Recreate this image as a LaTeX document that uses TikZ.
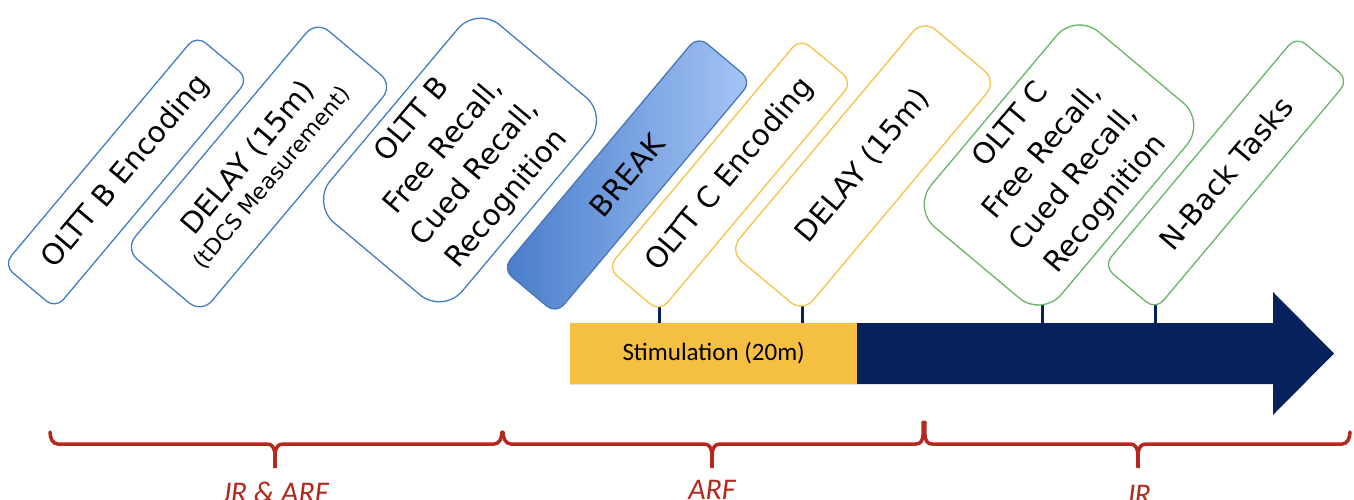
\documentclass[tikz,border=0pt]{standalone}
\usepackage{fontspec}
\setmainfont{DejaVu Sans}
\newfontfamily\calibri{Carlito}
\usetikzlibrary{calc,backgrounds}
\definecolor{navy}{RGB}{6,33,91}
\definecolor{stimyellow}{RGB}{245,192,66}
\definecolor{boxblue}{RGB}{70,124,196}
\definecolor{boxyellow}{RGB}{246,195,70}
\definecolor{boxgreen}{RGB}{106,180,104}
\definecolor{breakborder}{RGB}{74,118,182}
\definecolor{breaklight}{RGB}{166,198,246}
\definecolor{breakdark}{RGB}{72,124,202}
\definecolor{bracered}{RGB}{180,40,30}

\begin{document}
\begin{tikzpicture}[x=1pt,y=-1pt,
    task/.style={draw, fill=white, rotate=50, align=center, inner sep=0pt,
      line width=1.3pt, rounded corners=12pt, font=\fontsize{29}{41}\selectfont},
    stemline/.style={navy, line width=3pt},
    tbrace/.style={bracered, line width=3.5pt, line cap=round},
    period/.style={bracered, font=\calibri\itshape\fontsize{30}{36}\selectfont, anchor=base}]

    \useasboundingbox (0,0) rectangle (1354,500);

    % Timeline
    \fill[navy] (570,323) -- (1273,323) -- (1273,292) -- (1334,353.5) -- (1273,415)
      -- (1273,384) -- (570,384) -- cycle;
    \node[fill=stimyellow, inner sep=0pt, minimum width=287pt, minimum height=61pt, anchor=west,
      font=\calibri\fontsize{25}{30}\selectfont] (stim) at (570,353.5) {Stimulation (20m)};

    % Session B
    \node[task, draw=boxblue, minimum width=300pt, minimum height=68pt] (encB) at (126,172) {OLTT B Encoding};
    \node[task, draw=boxblue, minimum width=298pt, minimum height=100pt, rounded corners=16pt] (delayB) at (259,167)
      {DELAY (15m)\\[-12pt]{\fontsize{22}{27}\selectfont(tDCS Measurement)}};
    \node[task, draw=boxblue, minimum width=258pt, minimum height=172pt, rounded corners=30pt] (recallB) at (460,160)
      {OLTT B\\Free Recall,\\Cued Recall,\\Recognition};

    % Break
    \node[task, draw=breakborder, left color=breakdark, right color=breaklight,
      minimum width=304pt, minimum height=70pt] (break) at (627,175) {BREAK};

    % Session C
    \node[task, draw=boxyellow, minimum width=300pt, minimum height=68pt] (encC) at (730,175) {OLTT C Encoding};
    \node[task, draw=boxyellow, minimum width=302pt, minimum height=96pt, rounded corners=16pt] (delayC) at (863,166) {DELAY (15m)};
    \node[task, draw=boxgreen, minimum width=255pt, minimum height=170pt, rounded corners=30pt] (recallC) at (1059,165)
      {OLTT C\\Free Recall,\\Cued Recall,\\Recognition};
    \node[task, draw=boxgreen, minimum width=300pt, minimum height=68pt] (nback) at (1226,173) {N-Back Tasks};

    % Stems onto the timeline
    \begin{scope}[on background layer]
      \foreach \n in {encC,delayC,recallC,nback}
        \draw[stemline] ($(\n.south west)+(0,-25)$) -- (\n.south west |- stim.north);
    \end{scope}

    % Braces
    \draw[tbrace] (50,432) to[out=-90,in=180] (58,444) -- (267,444) to[out=0,in=90] (275,468)
      to[out=90,in=180] (283,444) -- (494,444) to[out=0,in=-90] (502,432);
    \draw[tbrace] (503,432) to[out=-90,in=180] (511,444) -- (704,444) to[out=0,in=90] (712,468)
      to[out=90,in=180] (720,444) -- (916,444) to[out=0,in=-90] (923,422);
    \draw[tbrace] (925,422) to[out=-90,in=180] (932,444) -- (1130,444) to[out=0,in=90] (1138,468)
      to[out=90,in=180] (1146,444) -- (1342,444) to[out=0,in=-90] (1350,432);
    \node[period] (jrarf) at (275,502) {JR \& ARF};
    \node[period] (arf) at (712,499) {ARF};
    \node[period] (jr) at (1138,504) {JR};
\end{tikzpicture}
\end{document}
